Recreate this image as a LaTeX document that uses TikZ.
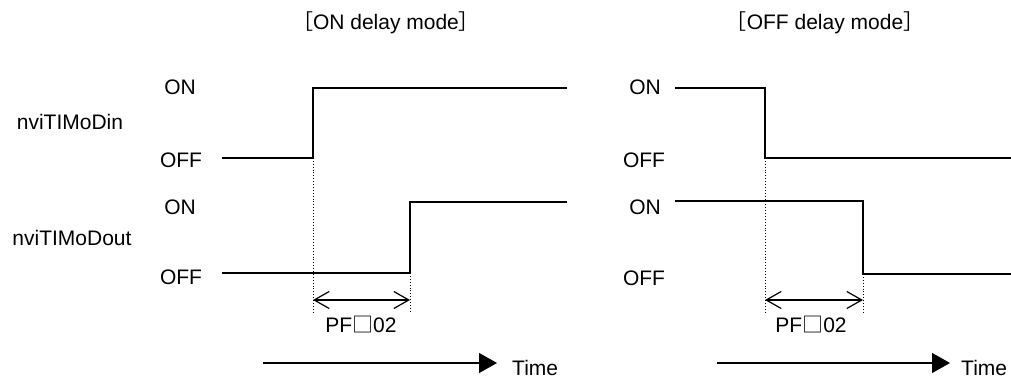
\documentclass[tikz,border=0pt]{standalone}
\usepackage{fontspec}
\setmainfont{Liberation Sans}
\newfontfamily\cjk{Noto Sans CJK JP}
\usetikzlibrary{arrows.meta}
\begin{document}
\begin{tikzpicture}[x=1pt,y=-1pt,
  lbl/.style={font=\fontsize{21}{24}\selectfont, inner sep=0pt, text height=15pt, text depth=0pt},
  wave/.style={line width=1.3pt},
  guide/.style={dotted, line width=0.9pt},
  span/.style={line width=1.2pt, {Straight Barb[length=15pt,width=17pt]}-{Straight Barb[length=15pt,width=17pt]}},
  timeax/.style={line width=1.2pt, -{Triangle[length=18pt,width=20pt]}}]
\useasboundingbox (0,0) rectangle (1011,379);

% titles
\node[lbl] (tON) at (386,22) {{\cjk ［}ON delay mode{\cjk ］}};
\node[lbl] (tOFF) at (825,22) {{\cjk ［}OFF delay mode{\cjk ］}};

% signal names
\node[lbl] (nin) at (70,122) {nviTIMoDin};
\node[lbl] (nout) at (72,238) {nviTIMoDout};

% left level labels
\node[lbl] (lon1) at (180,87) {ON};
\node[lbl] (loff1) at (181,160) {OFF};
\node[lbl] (lon2) at (180,207) {ON};
\node[lbl] (loff2) at (181,277) {OFF};
% right level labels
\node[lbl] (ron1) at (645,87) {ON};
\node[lbl] (roff1) at (644,160) {OFF};
\node[lbl] (ron2) at (645,207) {ON};
\node[lbl] (roff2) at (644,278) {OFF};

% ---- ON delay mode ----
\coordinate (ai0) at (222,158);
\coordinate (ai1) at (313,158);
\coordinate (ai2) at (313,88);
\coordinate (ai3) at (567,88);
\draw[wave] (ai0) -- (ai1) -- (ai2) -- (ai3);
\coordinate (ao0) at (222,273);
\coordinate (ao1) at (410,273);
\coordinate (ao2) at (410,202);
\coordinate (ao3) at (567,202);
\draw[wave] (ao0) -- (ao1) -- (ao2) -- (ao3);
\coordinate (ad1) at (313,312);
\coordinate (ad2) at (410,312);
\draw[guide] (ai1) -- (ad1);
\draw[guide] (ao1) -- (ad2);
\coordinate (as0) at (313,300);
\coordinate (as1) at (410,300);
\draw[span] (as0) -- (as1);
\node[lbl] (apf) at (361,325) {PF{\cjk □}02};
\coordinate (at0) at (263,363);
\coordinate (at1) at (497,363);
\draw[timeax] (at0) -- (at1);
\node[lbl, anchor=west] (atime) at (512,368) {Time};

% ---- OFF delay mode ----
\coordinate (bi0) at (675,88);
\coordinate (bi1) at (765,88);
\coordinate (bi2) at (765,158);
\coordinate (bi3) at (1011,158);
\draw[wave] (bi0) -- (bi1) -- (bi2) -- (bi3);
\coordinate (bo0) at (675,201);
\coordinate (bo1) at (863,201);
\coordinate (bo2) at (863,274);
\coordinate (bo3) at (1011,274);
\draw[wave] (bo0) -- (bo1) -- (bo2) -- (bo3);
\coordinate (bd1) at (765,312);
\coordinate (bd2) at (863,312);
\draw[guide] (bi2) -- (bd1);
\draw[guide] (bo2) -- (bd2);
\coordinate (bs0) at (765,300);
\coordinate (bs1) at (863,300);
\draw[span] (bs0) -- (bs1);
\node[lbl] (bpf) at (811,325) {PF{\cjk □}02};
\coordinate (bt0) at (717,363);
\coordinate (bt1) at (950,363);
\draw[timeax] (bt0) -- (bt1);
\node[lbl, anchor=west] (btime) at (961,368) {Time};
\end{tikzpicture}
\end{document}
